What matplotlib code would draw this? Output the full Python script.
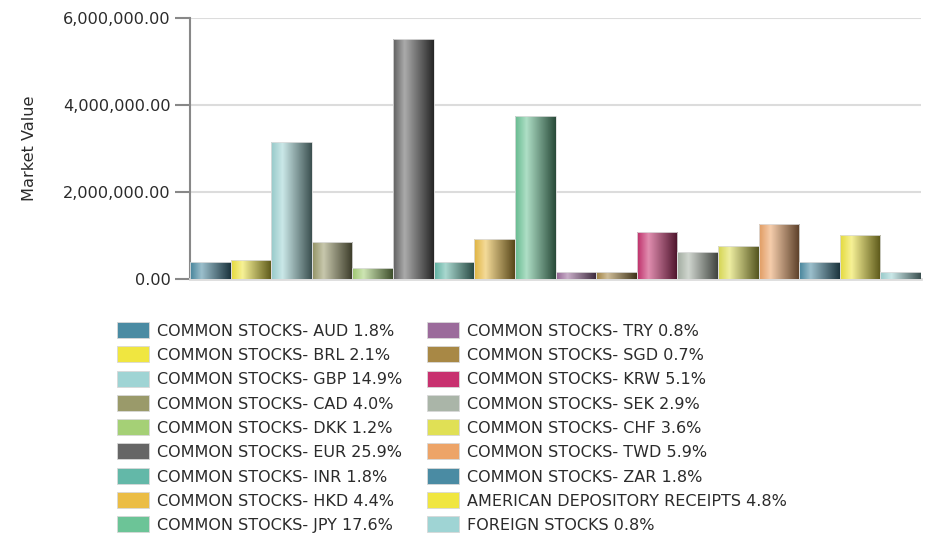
import matplotlib
matplotlib.use("Agg")
import matplotlib.pyplot as plt
import numpy as np
from matplotlib.colors import to_rgb
from matplotlib.patches import Rectangle
from matplotlib.ticker import FuncFormatter

categories = [
    "COMMON STOCKS- AUD", "COMMON STOCKS- BRL", "COMMON STOCKS- GBP",
    "COMMON STOCKS- CAD", "COMMON STOCKS- DKK", "COMMON STOCKS- EUR",
    "COMMON STOCKS- INR", "COMMON STOCKS- HKD", "COMMON STOCKS- JPY",
    "COMMON STOCKS- TRY", "COMMON STOCKS- SGD", "COMMON STOCKS- KRW",
    "COMMON STOCKS- SEK", "COMMON STOCKS- CHF", "COMMON STOCKS- TWD",
    "COMMON STOCKS- ZAR", "AMERICAN DEPOSITORY RECEIPTS", "FOREIGN STOCKS",
]
percents = [1.8, 2.1, 14.9, 4.0, 1.2, 25.9, 1.8, 4.4, 17.6,
            0.8, 0.7, 5.1, 2.9, 3.6, 5.9, 1.8, 4.8, 0.8]
values = [380000, 440000, 3160000, 850000, 250000, 5520000, 380000, 930000, 3750000,
          170000, 150000, 1080000, 615000, 765000, 1260000, 380000, 1015000, 170000]
colors = ["#4a8ba3", "#f0e640", "#9fd4d4", "#9a9a6a", "#a5d076", "#666666",
          "#63b8a8", "#ebbd45", "#6cc497", "#9b6b9b", "#a88845", "#c8316f",
          "#aab5a8", "#e0e055", "#eda468", "#4a8ba3", "#f0e640", "#9fd4d4"]
yticks = [0, 2000000, 4000000, 6000000]

plt.rcParams['font.family'] = ['DejaVu Sans']
TXT = '#2b2b2b'

W, H = 930, 535
fig = plt.figure(figsize=(W / 100, H / 100), dpi=100)
ax = fig.add_axes([190 / W, 1 - 279 / H, (921 - 190) / W, (279 - 18) / H])

x = np.arange(len(values))
bars = ax.bar(x, values, width=1.0, color=colors, edgecolor='none', zorder=2)

def gradient_img(c):
    base = np.array(to_rgb(c))
    stops = [(0.0, base * 0.95),
             (0.28, base + (1 - base) * 0.45),
             (1.0, base * 0.38)]
    n = 64
    t = np.linspace(0, 1, n)
    img = np.zeros((1, n, 3))
    for ch in range(3):
        img[0, :, ch] = np.interp(t, [s[0] for s in stops], [s[1][ch] for s in stops])
    return np.clip(img, 0, 1)

for b, c in zip(bars, colors):
    b.set_facecolor('none')
    x0, w, h = b.get_x(), b.get_width(), b.get_height()
    im = ax.imshow(gradient_img(c), extent=[x0, x0 + w, 0, h], aspect='auto',
                   zorder=3, interpolation='bilinear')
    im.set_clip_path(b)
    ax.add_patch(Rectangle((x0, 0), w, h, fill=False, edgecolor='#dddddd',
                           linewidth=0.6, zorder=4))

ax.set_xlim(-0.5, len(values) - 0.5)
ax.set_ylim(0, 6000000)
ax.set_yticks(yticks)
ax.yaxis.set_major_formatter(FuncFormatter(lambda v, p: f"{v:,.2f}"))
ax.set_xticks([])
ax.grid(axis='y', color='#dcdcdc', linewidth=1.5, zorder=0)
for s in ['top', 'right']:
    ax.spines[s].set_visible(False)
ax.spines['bottom'].set_color('#dcdcdc')
ax.spines['bottom'].set_linewidth(2)
ax.spines['left'].set_color('#888888')
ax.spines['left'].set_linewidth(1.5)
ax.tick_params(axis='y', length=11, width=1.5, color='#888888', labelsize=11.6,
               labelcolor=TXT, pad=3)
ax.set_ylabel("Market Value", fontsize=11.6, color=TXT)
ax.yaxis.set_label_coords(-(190 - 37) / 731, 0.5)

# legend (two columns of nine rows)
row0, dy = 330, 24.25
for i, (n, p, c) in enumerate(zip(categories, percents, colors)):
    col, row = divmod(i, 9)
    sx = 117 + col * 310
    cy = row0 + row * dy
    fig.patches.append(Rectangle((sx / W, 1 - (cy + 8) / H), 32 / W, 16 / H,
                                 transform=fig.transFigure, facecolor=c,
                                 edgecolor='#d8d8d8', linewidth=0.6))
    fig.text((sx + 40) / W, 1 - cy / H, f"{n} {p:.1f}%", fontsize=11.5,
             color=TXT, va='center_baseline', ha='left')

fig.savefig("out.png", dpi=100)
